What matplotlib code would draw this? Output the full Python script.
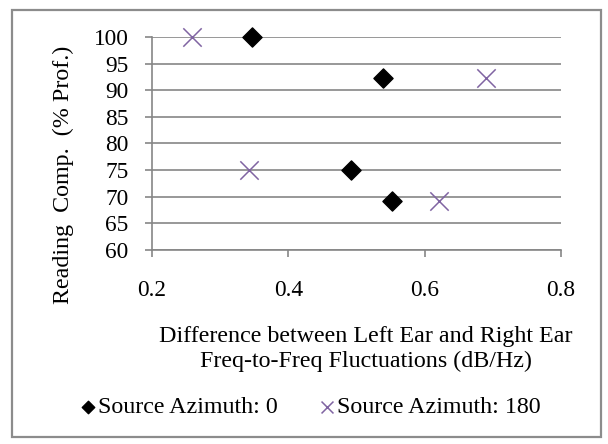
import matplotlib
matplotlib.use("Agg")
import matplotlib.pyplot as plt
from matplotlib.patches import Rectangle

az0_x = [0.346, 0.539, 0.492, 0.552]
az0_y = [100, 92.3, 75, 69.2]
az180_x = [0.258, 0.690, 0.343, 0.621]
az180_y = [100, 92.3, 75, 69.2]
xticks = [0.2, 0.4, 0.6, 0.8]
yticks = [60, 65, 70, 75, 80, 85, 90, 95, 100]

FS = 17.3
TFS = 16.8
plt.rcParams['font.family'] = ['Liberation Serif', 'DejaVu Serif']
fig = plt.figure(figsize=(6.08, 4.44), dpi=100)
fig.patches.append(Rectangle((12/608, 7/444), 589/608, 427/444, transform=fig.transFigure,
                             fill=False, edgecolor='#8c8c8c', linewidth=1.6))
ax = fig.add_axes([152/608, 1-250/444, 409/608, 213/444])
ax.scatter(az0_x, az0_y, marker='D', s=95, color='black', zorder=3, clip_on=False,
           label='Source Azimuth: 0')
ax.scatter(az180_x, az180_y, marker='x', s=175, color='#8064A2', linewidths=1.1, zorder=3,
           clip_on=False, label='Source Azimuth: 180')
ax.set_xlim(0.2, 0.8)
ax.set_ylim(60, 100)
ax.set_xticks(xticks)
ax.set_xticklabels([f"{t:.1f}" for t in xticks])
ax.set_yticks(yticks)
ax.set_yticklabels([str(t) for t in yticks])
ax.grid(axis='y', color='#868686', linewidth=1.2)
ax.set_axisbelow(True)
for s in ['top', 'right']:
    ax.spines[s].set_visible(False)
for s in ['left', 'bottom']:
    ax.spines[s].set_color('#868686')
    ax.spines[s].set_linewidth(1.2)
ax.tick_params(axis='x', direction='out', length=5, width=1.2, color='#868686', pad=16.5, labelsize=TFS)
ax.tick_params(axis='y', direction='out', length=5, width=1.2, color='#868686', pad=12, labelsize=TFS)
fig.text(63/608, 1-175/444, 'Reading  Comp.  (% Prof.)', rotation=90, ha='center', va='center', fontsize=FS)
fig.text(366/608, 1-349/444, 'Difference between Left Ear and Right Ear\nFreq-to-Freq Fluctuations (dB/Hz)',
         ha='center', va='center', fontsize=FS, linespacing=1.25)
fig.legend(loc='center', bbox_to_anchor=(310/608, 1-407/444), ncol=2, frameon=False, fontsize=FS,
           handlelength=0.7, handletextpad=0.05, columnspacing=1.7, markerscale=0.65, scatterpoints=1,
           borderpad=0)
fig.savefig('out.png', dpi=100)
